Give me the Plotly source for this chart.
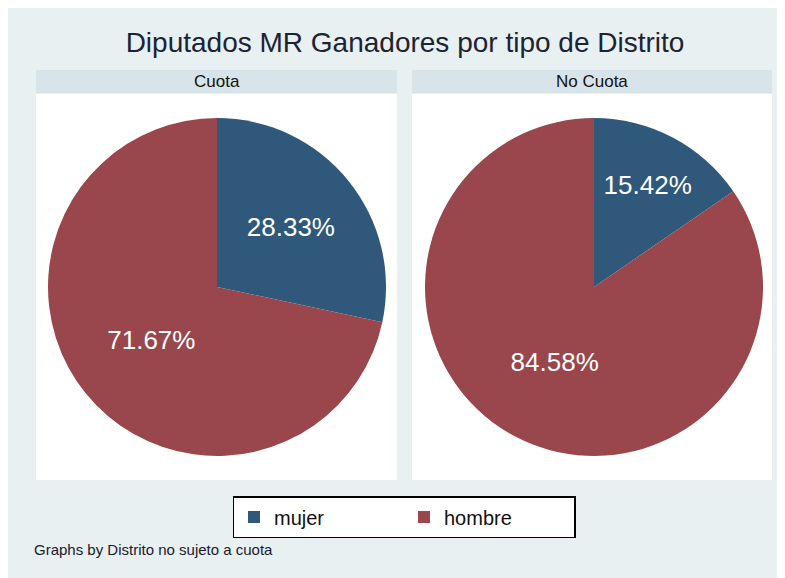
import plotly.graph_objects as go

# ---- data ----
labels = ["mujer", "hombre"]
panels = ["Cuota", "No Cuota"]
cuota_counts = [17, 43]        # 28.33% / 71.67%
no_cuota_counts = [37, 203]    # 15.42% / 84.58%
title_text = "Diputados MR Ganadores por tipo de Distrito"
note_text = "Graphs by Distrito no sujeto a cuota"

colors = ["#2F587B", "#99464C"]
W, H = 785, 578
OX, OY = 8, 8   # page body margin offset
BG = "#E8F0F2"
STRIP = "#D8E4E9"
FONT = "Liberation Sans, Arial, sans-serif"


def px(x):
    return (x - OX) / W


def py(y):
    return 1 - (y - OY) / H


fig = go.Figure()

pie_domains = [
    dict(x=[px(48), px(386)], y=[py(456), py(118)]),
    dict(x=[px(425), px(763)], y=[py(456), py(118)]),
]
for dom, vals in zip(pie_domains, [cuota_counts, no_cuota_counts]):
    fig.add_trace(go.Pie(
        labels=labels, values=vals, domain=dom,
        sort=False, direction="clockwise", rotation=0,
        marker=dict(colors=colors, line=dict(width=0)),
        texttemplate="%{percent:.2%}", textposition="inside",
        insidetextorientation="horizontal",
        textfont=dict(color="white", size=26, family=FONT),
        hoverinfo="label+value+percent",
    ))

shapes = []
panel_x = [(36, 397), (412, 772)]
for (x0, x1) in panel_x:
    shapes.append(dict(type="rect", xref="paper", yref="paper", x0=px(x0), x1=px(x1),
                       y0=py(93), y1=py(70), fillcolor=STRIP, line=dict(width=0), layer="below"))
    shapes.append(dict(type="rect", xref="paper", yref="paper", x0=px(x0), x1=px(x1),
                       y0=py(480), y1=py(94), fillcolor="white", line=dict(width=0), layer="below"))

annotations = []
for name, (x0, x1) in zip(panels, panel_x):
    annotations.append(dict(text=name, xref="paper", yref="paper", x=px((x0 + x1) / 2), y=py(82),
                            xanchor="center", yanchor="middle", showarrow=False,
                            font=dict(size=17, color="#111111", family=FONT)))
annotations.append(dict(text=note_text, xref="paper", yref="paper", x=px(32), y=py(549),
                        xanchor="left", yanchor="middle", showarrow=False,
                        font=dict(size=15, color="#1a1a2a", family=FONT)))

fig.update_layout(
    width=W, height=H,
    margin=dict(l=0, r=0, t=0, b=0),
    paper_bgcolor=BG,
    title=dict(text=title_text, x=px(405), xanchor="center", y=py(42), yanchor="middle",
               font=dict(size=28, color="#1c2333", family=FONT)),
    shapes=shapes,
    annotations=annotations,
    showlegend=True,
    legend=dict(orientation="h", x=px(404), xanchor="center", y=py(496), yanchor="top",
                bgcolor="white", bordercolor="black", borderwidth=1.5,
                font=dict(size=20, color="#111111", family=FONT),
                entrywidth=125, itemsizing="constant", traceorder="normal"),
)

fig.write_html("out.html")
